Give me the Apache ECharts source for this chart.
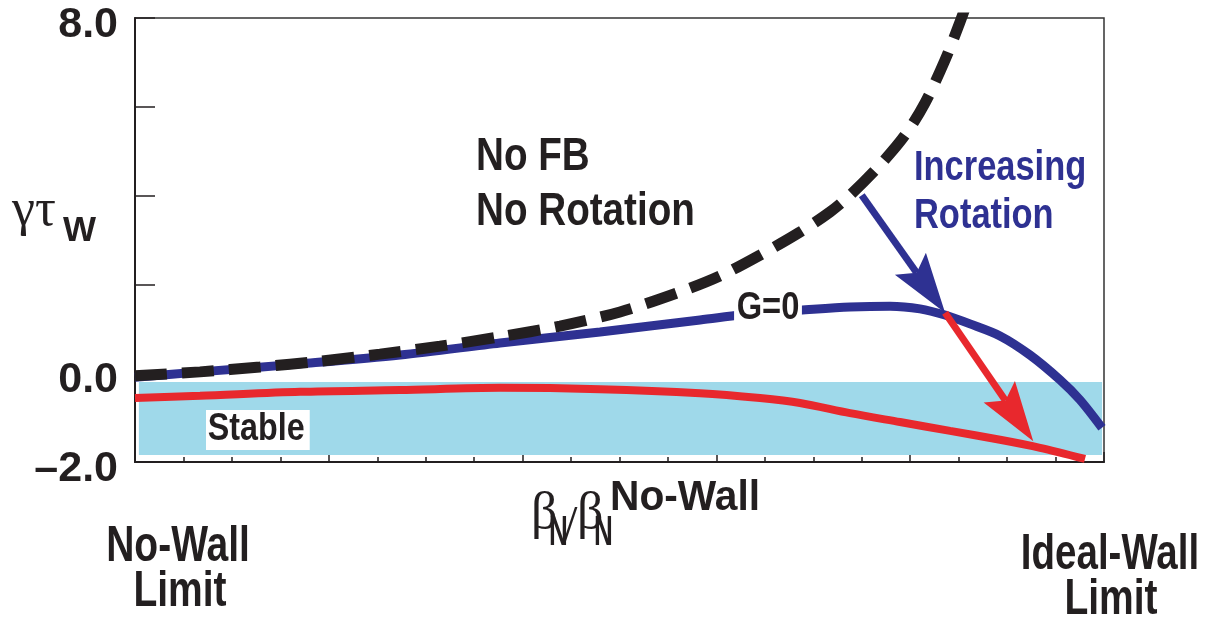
<!DOCTYPE html>
<html>
<head>
<meta charset="utf-8">
<script src="https://cdn.jsdelivr.net/npm/echarts@6/dist/echarts.min.js"></script>
<style>
  html, body { margin: 0; padding: 0; background: #fff; }
  #chart { width: 1207px; height: 617px; }
</style>
</head>
<body>
<div id="chart"></div>
<script>
// 数据: 横轴 0..100 (no-wall -> ideal-wall), 纵轴 gamma*tau_w
const noFbX = [0, 6.71, 12.90, 19.09, 25.28, 31.48, 37.67, 43.86, 50.05, 56.24, 60.37, 64.50, 68.63, 71.72, 73.79, 76.88, 79.46, 81.53, 83.59, 85.14, 85.96];
const noFbY = [-0.06, 0.03, 0.14, 0.27, 0.43, 0.61, 0.82, 1.06, 1.38, 1.83, 2.19, 2.66, 3.18, 3.63, 4.01, 4.69, 5.36, 6.09, 7.05, 7.91, 8.41];

const gZeroX = [0, 6.71, 17.03, 27.35, 37.67, 47.99, 58.31, 64.50, 68.63, 73.79, 77.92, 81.01, 83.59, 86.17, 89.27, 92.36, 95.46, 97.52, 99.79];
const gZeroY = [-0.09, 0.03, 0.21, 0.41, 0.68, 0.93, 1.20, 1.36, 1.42, 1.49, 1.51, 1.45, 1.31, 1.11, 0.84, 0.41, -0.15, -0.60, -1.23];

const rotX = [0, 6.71, 17.03, 27.35, 37.67, 47.99, 58.31, 64.50, 68.63, 73.79, 78.95, 84.12, 89.27, 93.40, 98.04];
const rotY = [-0.56, -0.51, -0.42, -0.38, -0.33, -0.36, -0.45, -0.56, -0.67, -0.90, -1.10, -1.30, -1.50, -1.68, -1.93];

// 稳定区
const stableBandX = [0.4, 99.8];
const stableBandY = [-0.2, -1.84];

// 箭头 [x1, y1, x2, y2]
const blueArrow = [75.0, 4.01, 83.6, 1.36];
const redArrow = [83.6, 1.36, 92.7, -1.53];

// 纵轴只显示这几个刻度标签
const yTickLabels = { '8': '8.0', '0': '0.0', '-2': '–2.0' };

const zip = (xs, ys) => xs.map((x, i) => [x, ys[i]]);

const SANS = "'Liberation Sans', Arial, sans-serif";
const SERIF = "'Liberation Serif', 'DejaVu Serif', serif";
const INK = '#231f20';
const BLUE = '#2e3192';
const RED = '#e8282d';

// 画箭头(杆 + 三角头)
function renderArrow(params, api) {
    const p1 = api.coord([api.value(0), api.value(1)]);
    const p2 = api.coord([api.value(2), api.value(3)]);
    const dx = p2[0] - p1[0], dy = p2[1] - p1[1];
    const len = Math.hypot(dx, dy);
    const ux = dx / len, uy = dy / len;
    const nx = -uy, ny = ux;
    const headLen = 60, headHalf = 19;
    const bx = p2[0] - ux * headLen, by = p2[1] - uy * headLen;
    const nxp = p2[0] - ux * headLen * 0.82, nyp = p2[1] - uy * headLen * 0.82;
    const color = api.visual('color');
    return {
        type: 'group',
        children: [{
            type: 'line',
            shape: { x1: p1[0], y1: p1[1], x2: nxp, y2: nyp },
            style: { stroke: color, lineWidth: 7 }
        }, {
            type: 'polygon',
            shape: { points: [[p2[0], p2[1]], [bx + nx * headHalf, by + ny * headHalf], [nxp, nyp], [bx - nx * headHalf, by - ny * headHalf]] },
            style: { fill: color }
        }]
    };
}

// 图上的文字(压窄的粗体, 模仿 Helvetica Condensed)
function label(text, x, y, size, o) {
    o = o || {};
    return {
        type: 'text',
        x: x,
        y: y,
        scaleX: o.scaleX || 1,
        z: 100,
        style: {
            text: text,
            fontFamily: o.family || SANS,
            fontWeight: o.weight || 'bold',
            fontSize: size,
            fill: o.color || INK,
            align: o.align || 'left',
            verticalAlign: 'middle',
            backgroundColor: o.bg,
            padding: o.padding
        }
    };
}

const myChart = echarts.init(document.getElementById('chart'));

const option = {
    backgroundColor: '#ffffff',
    animation: false,
    grid: {
        left: 135,
        right: 103,
        top: 18,
        bottom: 155,
        show: true,
        borderColor: '#333',
        borderWidth: 1.5,
        backgroundColor: 'transparent',
        containLabel: false,
        outerBoundsMode: 'none'
    },
    xAxis: {
        type: 'value',
        min: 0,
        max: 100,
        interval: 20,
        axisLine: { show: true, onZero: false, lineStyle: { color: INK, width: 2 } },
        axisTick: { show: true, inside: true, length: 10, lineStyle: { color: INK, width: 1.5 } },
        minorTick: { show: true, splitNumber: 4, length: 5, lineStyle: { color: INK, width: 1.5 } },
        axisLabel: { show: false },
        splitLine: { show: false },
        minorSplitLine: { show: false }
    },
    yAxis: {
        type: 'value',
        min: -2,
        max: 8,
        interval: 2,
        axisLine: { show: true, onZero: false, lineStyle: { color: INK, width: 2 } },
        axisTick: { show: true, inside: true, length: 20, lineStyle: { color: INK, width: 1.5 } },
        axisLabel: {
            show: true,
            margin: 17,
            verticalAlign: 'middle',
            formatter: v => yTickLabels[String(v)] ? '{t|' + yTickLabels[String(v)] + '}' : '',
            rich: {
                t: {
                    color: INK,
                    fontFamily: SANS,
                    fontWeight: 'bold',
                    fontSize: 43,
                    padding: [14, 0, 0, 0]
                }
            }
        },
        splitLine: { show: false }
    },
    series: [{
        // 稳定区 + 有旋转时的曲线
        name: 'rotation',
        type: 'line',
        data: zip(rotX, rotY),
        smooth: 0.3,
        showSymbol: false,
        lineStyle: { color: RED, width: 8 },
        z: 3,
        markArea: {
            silent: true,
            itemStyle: { color: '#9fd9ea' },
            data: [[{ xAxis: stableBandX[0], yAxis: stableBandY[0] }, { xAxis: stableBandX[1], yAxis: stableBandY[1] }]]
        }
    }, {
        name: 'G=0',
        type: 'line',
        data: zip(gZeroX, gZeroY),
        smooth: 0.3,
        showSymbol: false,
        lineStyle: { color: BLUE, width: 9, cap: 'butt' },
        z: 4
    }, {
        name: 'No FB',
        type: 'line',
        data: zip(noFbX, noFbY),
        smooth: 0.3,
        showSymbol: false,
        clip: true,
        lineStyle: { color: INK, width: 11, type: [32, 15], cap: 'butt' },
        z: 5
    }, {
        type: 'custom',
        renderItem: renderArrow,
        itemStyle: { color: BLUE },
        data: [blueArrow],
        clip: false,
        z: 6
    }, {
        type: 'custom',
        renderItem: renderArrow,
        itemStyle: { color: RED },
        data: [redArrow],
        clip: false,
        z: 7
    }],
    graphic: [
        label('No FB', 476, 157, 46, { scaleX: 0.84 }),
        label('No Rotation', 476, 212, 46, { scaleX: 0.84 }),
        label('Increasing', 914, 168, 42, { scaleX: 0.82, color: BLUE }),
        label('Rotation', 914, 216, 42, { scaleX: 0.82, color: BLUE }),
        label('G=0', 768, 309, 38, { scaleX: 0.86, align: 'center', bg: '#fff', padding: [0, 3, 0, 3] }),
        label('Stable', 206, 430, 38, { scaleX: 0.85, bg: '#fff', padding: [2, 6, 0, 2] }),
        // 纵轴名称 γτ_W
        label('γτ', 12, 211, 52, { family: SERIF, weight: 'normal' }),
        label('W', 63, 231, 35, {}),
        // 横轴名称 β_N / β_N^No-Wall
        label('β', 531, 514, 52, { family: SERIF, weight: 'normal' }),
        label('N', 549, 533, 42, { scaleX: 0.62 }),
        label('/', 563, 528, 52, { family: SERIF, weight: 'normal' }),
        label('β', 577, 514, 52, { family: SERIF, weight: 'normal' }),
        label('N', 594, 533, 42, { scaleX: 0.62 }),
        label('No-Wall', 610, 498, 42, { scaleX: 0.97 }),
        // 两端说明
        label('No-Wall', 178, 547, 50, { scaleX: 0.78, align: 'center' }),
        label('Limit', 180, 592, 50, { scaleX: 0.78, align: 'center' }),
        label('Ideal-Wall', 1110, 555, 50, { scaleX: 0.77, align: 'center' }),
        label('Limit', 1111, 600, 50, { scaleX: 0.78, align: 'center' })
    ]
};

myChart.setOption(option);
</script>
</body>
</html>
